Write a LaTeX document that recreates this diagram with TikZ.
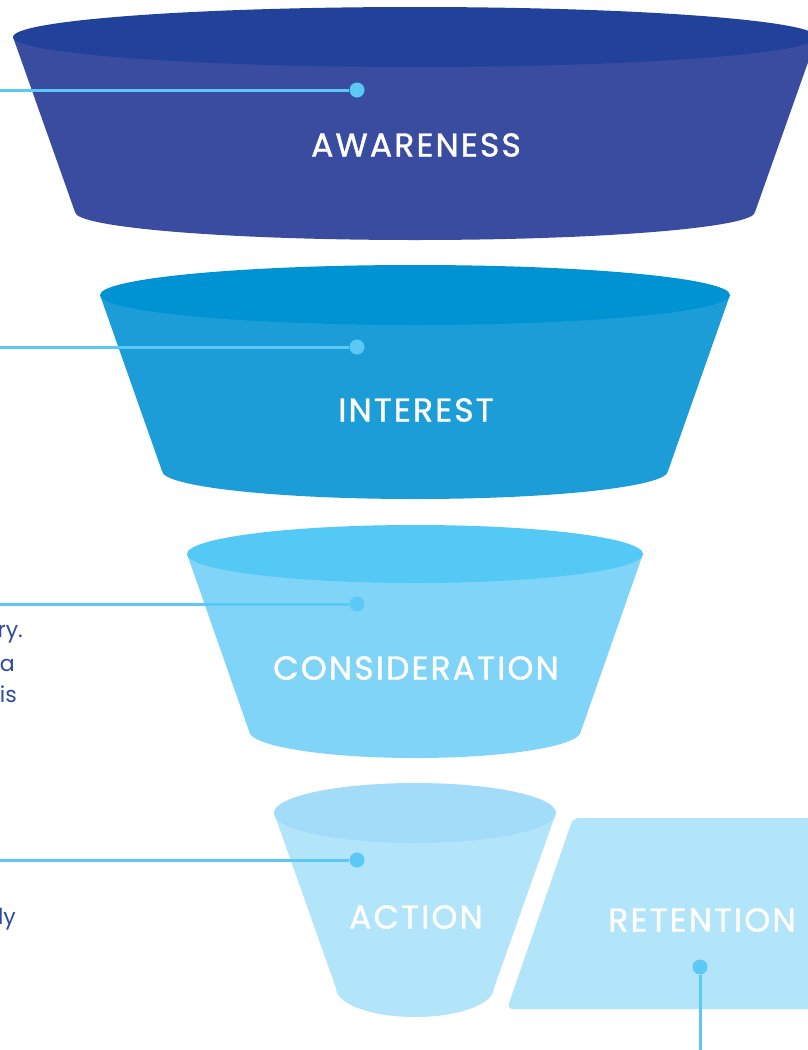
\documentclass[tikz,border=0pt]{standalone}
\usepackage{fontspec}
\setmainfont{Poppins}
\newfontfamily\stagefont{Poppins}[LetterSpace=6.5, FakeBold=1.2]
\definecolor{awtop}{HTML}{22419A}
\definecolor{awbody}{HTML}{394C9F}
\definecolor{intop}{HTML}{0093D3}
\definecolor{inbody}{HTML}{1C9DD8}
\definecolor{cotop}{HTML}{55C9F5}
\definecolor{cobody}{HTML}{80D4F7}
\definecolor{actop}{HTML}{A2DCF8}
\definecolor{acbody}{HTML}{B2E4FA}
\definecolor{clink}{HTML}{5BC8F5}
\definecolor{navy}{HTML}{2D4A9D}
\tikzset{
  stage/.style={text=white, font=\stagefont\fontsize{33}{38}\selectfont},
  dot/.style={circle, fill=clink, inner sep=0pt, minimum size=15pt},
  connector/.style={draw=clink, line width=3pt},
  note/.style={text=navy, font=\fontsize{22}{26}\selectfont, anchor=base east, inner sep=0pt}
}
\begin{document}
\begin{tikzpicture}[x=1pt,y=-1pt]
		\useasboundingbox (0,0) rectangle (808,1050);
		\clip (0,0) rectangle (808,1050);
		\fill[awbody] (13,37) -- (75,212) arc[start angle=180,end angle=360,x radius=340pt,y radius=28pt] -- (817,37) -- cycle;
		\fill[awtop] (415,37) ellipse[x radius=402pt,y radius=30pt];
		\fill[inbody] (100,295) -- (162,471) arc[start angle=180,end angle=360,x radius=253pt,y radius=28pt] -- (730,295) -- cycle;
		\fill[intop] (415,295) ellipse[x radius=315pt,y radius=30pt];
		\fill[cobody] (187,554) -- (249,731) arc[start angle=180,end angle=360,x radius=166pt,y radius=27pt] -- (643,554) -- cycle;
		\fill[cotop] (415,554) ellipse[x radius=228pt,y radius=29pt];
		\fill[acbody] (274,813) -- (336,988) arc[start angle=180,end angle=360,x radius=79pt,y radius=29pt] -- (556,813) -- cycle;
		\fill[actop] (415,813) ellipse[x radius=141pt,y radius=30pt];
		\fill[acbody, rounded corners=6pt] (573,818) -- (840,818) -- (840,1009) -- (507,1009) -- cycle;
		\node[stage] (awareness) at (416,145) {AWARENESS};
		\node[stage] (interest) at (416,410) {INTEREST};
		\node[stage] (consideration) at (416,668) {CONSIDERATION};
		\node[stage] (action) at (416,917) {ACTION};
		\node[stage] (retention) at (702,920) {RETENTION};
		\coordinate (awfree) at (0,90);
		\coordinate (infree) at (0,347);
		\coordinate (cofree) at (0,604);
		\coordinate (acfree) at (0,860);
		\coordinate (retfree) at (700,1050);
		\node[dot] (awdot) at (357,90) {};
		\node[dot] (indot) at (357,347) {};
		\node[dot] (codot) at (357,604) {};
		\node[dot] (acdot) at (357,860) {};
		\node[dot] (retdot) at (700,967) {};
		\draw[connector] (awfree) -- (awdot);
		\draw[connector] (infree) -- (indot);
		\draw[connector] (cofree) -- (codot);
		\draw[connector] (acfree) -- (acdot);
		\draw[connector] (retdot) -- (retfree);
		\node[note] (cotext1) at (23,637) {ry.};
		\node[note] (cotext2) at (15,671) {a};
		\node[note] (cotext3) at (17,702) {is};
		\node[note] (actext1) at (16,924) {ly};
\end{tikzpicture}
\end{document}
